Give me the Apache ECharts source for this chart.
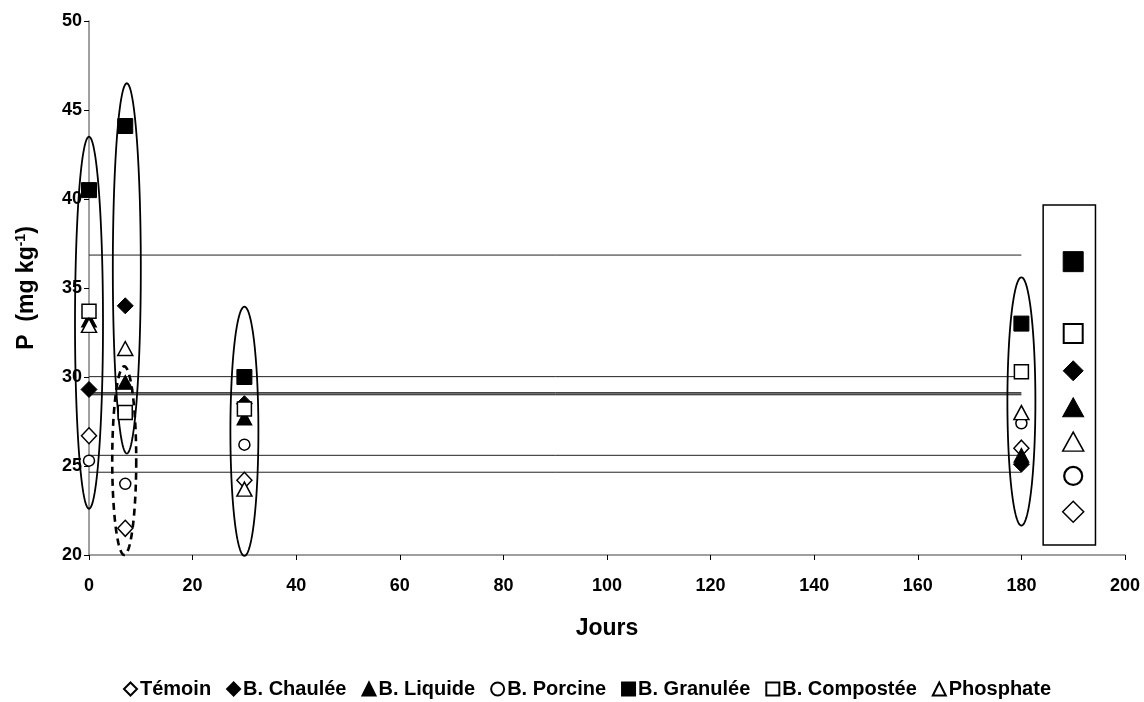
<!DOCTYPE html>
<html>
<head>
<meta charset="utf-8">
<script src="https://cdn.jsdelivr.net/npm/echarts@6/dist/echarts.min.js"></script>
<style>html,body{margin:0;padding:0;background:#fff}#c{width:1144px;height:702px}</style>
</head>
<body>
<div id="c"></div>
<script>
// ---- data ----
var days = [0, 7, 30, 180];
var temoin    = [26.7, 21.5, 24.2, 26.0];
var chaulee   = [29.3, 34.0, 28.5, 25.1];
var liquide   = [33.2, 29.7, 27.7, 25.6];
var porcine   = [25.3, 24.0, 26.2, 27.4];
var granulee  = [40.5, 44.1, 30.0, 33.0];
var compostee = [33.7, 28.0, 28.2, 30.3];
var phosphate = [32.9, 31.6, 23.7, 28.0];

// horizontal reference levels (drawn from day 0 to day 180)
var meanLevels = [36.85, 30.02, 29.12, 29.05, 29.0, 25.6, 24.65];
var meanStart = 0, meanEnd = 180;

// ellipses: [centre day, low value, high value]
var ellipsesSolid = [[0, 22.6, 43.5], [7.3, 25.7, 46.5], [30, 19.95, 33.95], [180, 21.65, 35.6]];
var ellipsesDashed = [[6.8, 20.0, 30.6]];

// side box: [left day, right day, top value, bottom value]
var boxRect = [[184.2, 194.3, 39.66, 20.56]];
var boxX = 190;
var boxLevels = [36.48, 32.45, 30.35, 28.3, 26.37, 24.44, 22.43];

var xTicks = {min: 0, max: 200, interval: 20};
var yTicks = {min: 20, max: 50, interval: 5};

// ---- chart ----
var FONT = '"Liberation Sans", Arial, sans-serif';
var filled = {color: '#000', borderColor: '#000', borderWidth: 1, opacity: 1};
var open = {color: '#fff', borderColor: '#000', borderWidth: 1.5, opacity: 1};

function pts(vals) { return days.map(function (d, i) { return [d, vals[i]]; }); }

var seriesDefs = [
  {name: 'Témoin', vals: temoin, symbol: 'diamond', size: [15, 16], style: open},
  {name: 'B. Chaulée', vals: chaulee, symbol: 'diamond', size: [16, 16], style: filled},
  {name: 'B. Liquide', vals: liquide, symbol: 'triangle', size: [15, 14], style: filled},
  {name: 'B. Porcine', vals: porcine, symbol: 'circle', size: 11, style: open},
  {name: 'B. Granulée', vals: granulee, symbol: 'rect', size: 15, style: filled},
  {name: 'B. Compostée', vals: compostee, symbol: 'rect', size: 14, style: open},
  {name: 'Phosphate', vals: phosphate, symbol: 'triangle', size: [15, 14], style: open}
];

// box marker styles in order of boxLevels
var boxSyms = [
  {symbol: 'rect', size: 20, style: filled},
  {symbol: 'rect', size: 19, style: {color: '#fff', borderColor: '#000', borderWidth: 2, opacity: 1}},
  {symbol: 'diamond', size: [20, 20], style: filled},
  {symbol: 'triangle', size: [21, 19], style: filled},
  {symbol: 'triangle', size: [21, 19], style: {color: '#fff', borderColor: '#000', borderWidth: 1.5, opacity: 1}},
  {symbol: 'circle', size: 18, style: {color: '#fff', borderColor: '#000', borderWidth: 2.2, opacity: 1}},
  {symbol: 'diamond', size: [21, 21], style: {color: '#fff', borderColor: '#000', borderWidth: 1.5, opacity: 1}}
];

function ellipseRender(dashed) {
  return function (params, api) {
    var c = api.value(0), lo = api.value(1), hi = api.value(2);
    var top = api.coord([c, hi]), bot = api.coord([c, lo]);
    var cx = top[0], cy = (top[1] + bot[1]) / 2, ry = (bot[1] - top[1]) / 2;
    var rx = dashed ? 12 : 14;
    var p = [];
    for (var i = 0; i < 120; i++) {
      var t = i / 120 * Math.PI * 2;
      p.push([cx + rx * Math.cos(t), cy + ry * Math.sin(t)]);
    }
    return {
      type: 'polygon',
      shape: {points: p},
      style: {fill: 'none', stroke: '#000', lineWidth: dashed ? 2.6 : 1.8, lineDash: dashed ? [7, 5] : null}
    };
  };
}

var series = [];
series.push({
  type: 'custom', name: 'means', silent: true, z: 1,
  data: meanLevels.map(function (v) { return [meanStart, meanEnd, v]; }),
  renderItem: function (params, api) {
    var a = api.coord([api.value(0), api.value(2)]), b = api.coord([api.value(1), api.value(2)]);
    return {type: 'line', shape: {x1: a[0], y1: a[1], x2: b[0], y2: b[1]},
      style: {stroke: '#222', lineWidth: 1}};
  }
});
series.push({
  type: 'custom', name: 'ell', silent: true, z: 2, data: ellipsesSolid, renderItem: ellipseRender(false)
});
series.push({
  type: 'custom', name: 'ellD', silent: true, z: 2, data: ellipsesDashed, renderItem: ellipseRender(true)
});
series.push({
  type: 'custom', name: 'box', silent: true, z: 2, data: boxRect,
  renderItem: function (params, api) {
    var a = api.coord([api.value(0), api.value(2)]), b = api.coord([api.value(1), api.value(3)]);
    return {type: 'rect', shape: {x: a[0], y: a[1], width: b[0] - a[0], height: b[1] - a[1]},
      style: {fill: '#fff', stroke: '#000', lineWidth: 1.5}};
  }
});
seriesDefs.forEach(function (s) {
  series.push({
    type: 'scatter', name: s.name, data: pts(s.vals), symbol: s.symbol, symbolSize: s.size,
    itemStyle: s.style, z: 5, silent: true
  });
});
series.push({
  type: 'scatter', name: 'boxMarks', z: 6, silent: true,
  data: boxLevels.map(function (v, i) {
    return {value: [boxX, v], symbol: boxSyms[i].symbol, symbolSize: boxSyms[i].size, itemStyle: boxSyms[i].style};
  })
});

var chart = echarts.init(document.getElementById('c'), null, {renderer: 'canvas'});
chart.setOption({
  animation: false,
  backgroundColor: '#fff',
  grid: {left: 89, right: 19, top: 21, bottom: 147, containLabel: false},
  xAxis: {
    type: 'value', min: xTicks.min, max: xTicks.max, interval: xTicks.interval,
    name: 'Jours', nameLocation: 'middle', nameGap: 62,
    nameTextStyle: {fontFamily: FONT, fontWeight: 'bold', fontSize: 23, color: '#000'},
    axisLine: {show: true, lineStyle: {color: '#808080', width: 1.5}},
    axisTick: {show: true, length: 5, lineStyle: {color: '#000'}},
    axisLabel: {fontFamily: FONT, fontWeight: 'bold', fontSize: 18, color: '#000', margin: 22},
    splitLine: {show: false}
  },
  yAxis: {
    type: 'value', min: yTicks.min, max: yTicks.max, interval: yTicks.interval,
    name: 'P  (mg kg{sup|-1})', nameLocation: 'middle', nameGap: 50, nameRotate: 90,
    nameTextStyle: {fontFamily: FONT, fontWeight: 'bold', fontSize: 23, color: '#000',
      rich: {sup: {fontFamily: FONT, fontWeight: 'bold', fontSize: 14, color: '#000', verticalAlign: 'top', padding: [0, 0, 11, 0]}}},
    axisLine: {show: true, lineStyle: {color: '#808080', width: 1.5}},
    axisTick: {show: true, length: 5, inside: false, lineStyle: {color: '#000'}},
    axisLabel: {fontFamily: FONT, fontWeight: 'bold', fontSize: 18, color: '#000', margin: 7},
    splitLine: {show: false}
  },
  legend: {
    data: seriesDefs.map(function (s) { return s.name; }),
    bottom: -2, left: 118, itemWidth: 13, itemHeight: 13, itemGap: 15,
    textStyle: {fontFamily: FONT, fontWeight: 'bold', fontSize: 20, color: '#000', padding: [0, 0, 0, -2]},
    selectedMode: false
  },
  series: series
});
</script>
</body>
</html>
